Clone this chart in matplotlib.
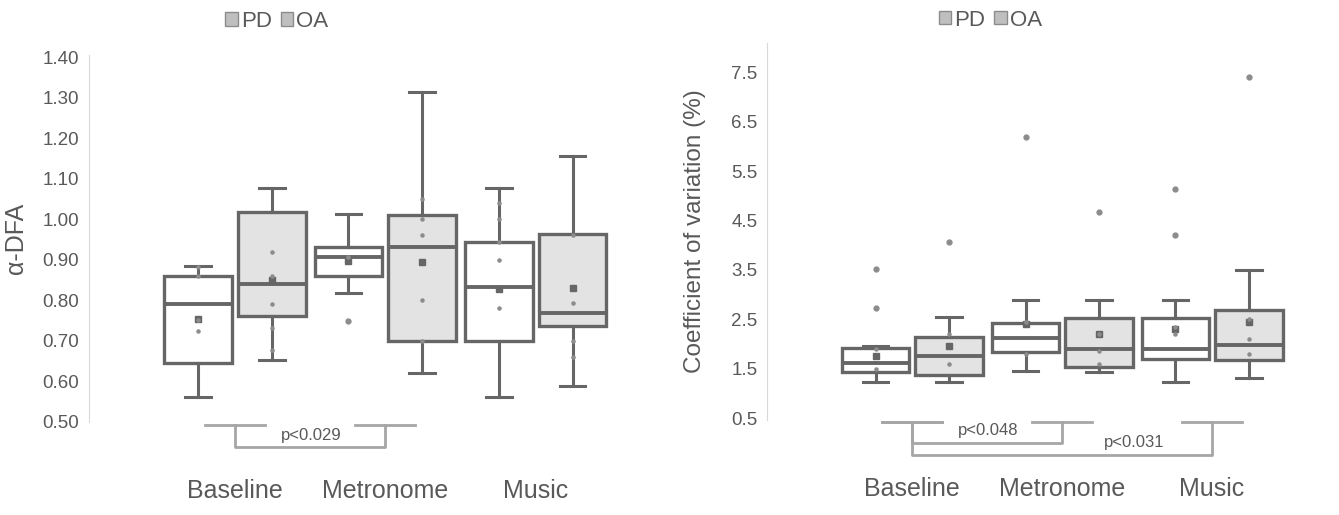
import matplotlib.pyplot as plt
from matplotlib.patches import Patch
from matplotlib import transforms
import numpy as np

plt.rcParams['font.family'] = ['Liberation Sans', 'DejaVu Sans']

conditions = ['Baseline', 'Metronome', 'Music']
groups = ['PD', 'OA']

# alpha-DFA box stats (Baseline, Metronome, Music)
dfa_pd_lo = [0.562, 0.819, 0.562]
dfa_pd_q1 = [0.645, 0.861, 0.699]
dfa_pd_med = [0.790, 0.906, 0.834]
dfa_pd_q3 = [0.861, 0.931, 0.945]
dfa_pd_hi = [0.885, 1.012, 1.076]
dfa_pd_mean = [0.755, 0.898, 0.827]
dfa_pd_out = [[], [0.749], []]
dfa_pd_pts = [[0.883, 0.860, 0.752, 0.724], [0.906], [0.900, 0.780, 0.945, 1.000, 1.040]]

dfa_oa_lo = [0.653, 0.620, 0.588]
dfa_oa_q1 = [0.761, 0.699, 0.736]
dfa_oa_med = [0.840, 0.931, 0.769]
dfa_oa_q3 = [1.018, 1.010, 0.964]
dfa_oa_hi = [1.076, 1.313, 1.155]
dfa_oa_mean = [0.850, 0.895, 0.831]
dfa_oa_out = [[], [], []]
dfa_oa_pts = [[0.919, 0.860, 0.790, 0.732, 0.678], [1.000, 0.960, 0.800, 0.700, 1.050], [0.960, 0.794, 0.700, 0.660]]

# coefficient of variation (%) box stats
cv_pd_lo = [1.24, 1.46, 1.24]
cv_pd_q1 = [1.44, 1.83, 1.69]
cv_pd_med = [1.61, 2.12, 1.89]
cv_pd_q3 = [1.915, 2.43, 2.52]
cv_pd_hi = [1.95, 2.89, 2.90]
cv_pd_mean = [1.75, 2.40, 2.30]
cv_pd_out = [[3.51, 2.72], [6.19], [5.14, 4.20]]
cv_pd_pts = [[1.90, 1.50], [2.45, 1.80], [2.35, 2.20]]

cv_oa_lo = [1.24, 1.44, 1.31]
cv_oa_q1 = [1.38, 1.53, 1.68]
cv_oa_med = [1.76, 1.89, 1.98]
cv_oa_q3 = [2.15, 2.52, 2.69]
cv_oa_hi = [2.55, 2.90, 3.50]
cv_oa_mean = [1.95, 2.20, 2.45]
cv_oa_out = [[4.07], [4.67], [7.41]]
cv_oa_pts = [[2.20, 1.60], [2.20, 1.85, 1.60], [2.50, 2.10, 1.80]]

dfa_ticks = [0.50, 0.60, 0.70, 0.80, 0.90, 1.00, 1.10, 1.20, 1.30, 1.40]
cv_ticks = [0.5, 1.5, 2.5, 3.5, 4.5, 5.5, 6.5, 7.5]

edge = '#666666'
txt = '#595959'
fills = {'PD': 'white', 'OA': '#e3e3e3'}


def make_stats(lo, q1, med, q3, hi, mean, out):
    return [dict(whislo=lo[i], q1=q1[i], med=med[i], q3=q3[i], whishi=hi[i],
                 mean=mean[i], fliers=out[i]) for i in range(len(lo))]


def draw_panel(ax, pd, oa, pd_pts, oa_pts):
    xs = np.arange(len(conditions))
    for g, st, pts, off in [('PD', pd, pd_pts, -0.245), ('OA', oa, oa_pts, 0.245)]:
        pos = xs + off
        ax.bxp(st, positions=pos, widths=0.45, capwidths=0.17, patch_artist=True,
               showmeans=True, manage_ticks=False,
               boxprops=dict(facecolor=fills[g], edgecolor=edge, linewidth=2.4),
               medianprops=dict(color=edge, linewidth=2.8),
               whiskerprops=dict(color=edge, linewidth=2.2),
               capprops=dict(color=edge, linewidth=2.2),
               meanprops=dict(marker='s', markersize=4, markerfacecolor=edge,
                              markeredgecolor=edge),
               flierprops=dict(marker='o', markersize=3.5, markerfacecolor='#8c8c8c',
                               markeredgecolor='#8c8c8c'))
        for p, v in zip(pos, pts):
            ax.scatter(np.full(len(v), p), v, s=5, color='#8c8c8c', zorder=4)
    ax.set_xticks(xs)
    ax.set_xticklabels(conditions, fontsize=18, color=txt)
    ax.tick_params(axis='x', length=0, pad=41)
    ax.tick_params(axis='y', length=0, pad=7, labelsize=13.5, labelcolor=txt)
    for s in ['top', 'right', 'bottom']:
        ax.spines[s].set_visible(False)
    ax.spines['left'].set_color('#d9d9d9')
    ax.set_xlim(-0.97, 2.5)
    ax.legend(handles=[Patch(facecolor='#bfbfbf', edgecolor='#8c8c8c', label=g) for g in groups],
              ncol=2, frameon=False, loc='center', bbox_to_anchor=(0.36, 1.092),
              handlelength=0.55, handleheight=0.55, handletextpad=0.15,
              columnspacing=0.4, fontsize=16, labelcolor=txt)


def bracket(ax, x0, x1, y_top, y_bot, label, tx, ty):
    tr = transforms.blended_transform_factory(ax.transData, ax.transAxes)
    kw = dict(color='#a6a6a6', linewidth=2, transform=tr, clip_on=False)
    for x in (x0, x1):
        ax.plot([x - 0.2, x + 0.2], [y_top, y_top], **kw)
    ax.plot([x0, x0, x1, x1], [y_top, y_bot, y_bot, y_top], **kw)
    ax.text(tx, ty, label, transform=tr, ha='center', va='center', fontsize=12, color=txt)


fig = plt.figure(figsize=(13.39, 5.15), dpi=100)
ax1 = fig.add_axes([89 / 1339, 1 - 422 / 515, 522 / 1339, 367 / 515])
ax2 = fig.add_axes([767 / 1339, 1 - 420 / 515, 520 / 1339, 377 / 515])

draw_panel(ax1,
           make_stats(dfa_pd_lo, dfa_pd_q1, dfa_pd_med, dfa_pd_q3, dfa_pd_hi, dfa_pd_mean, dfa_pd_out),
           make_stats(dfa_oa_lo, dfa_oa_q1, dfa_oa_med, dfa_oa_q3, dfa_oa_hi, dfa_oa_mean, dfa_oa_out),
           dfa_pd_pts, dfa_oa_pts)
ax1.set_ylim(0.50, 1.405)
ax1.set_yticks(dfa_ticks)
ax1.set_yticklabels(['%.2f' % t for t in dfa_ticks])
ax1.set_ylabel('α-DFA', fontsize=18, color=txt)
ax1.yaxis.set_label_coords(-0.117, 0.5)
bracket(ax1, 0, 1, -0.008, -0.068, 'p<0.029', 0.51, -0.036)

draw_panel(ax2,
           make_stats(cv_pd_lo, cv_pd_q1, cv_pd_med, cv_pd_q3, cv_pd_hi, cv_pd_mean, cv_pd_out),
           make_stats(cv_oa_lo, cv_oa_q1, cv_oa_med, cv_oa_q3, cv_oa_hi, cv_oa_mean, cv_oa_out),
           cv_pd_pts, cv_oa_pts)
ax2.set_ylim(0.46, 8.1)
ax2.set_yticks(cv_ticks)
ax2.set_yticklabels(['%.1f' % t for t in cv_ticks])
ax2.set_ylabel('Coefficient of variation (%)', fontsize=17.5, color=txt)
ax2.yaxis.set_label_coords(-0.117, 0.5)
ax2.get_legend().set_bbox_to_anchor((0.43, 1.061))
bracket(ax2, 0, 1, -0.005, -0.061, 'p<0.048', 0.505, -0.027)
bracket(ax2, 0, 2, -0.005, -0.093, 'p<0.031', 1.48, -0.061)

fig.savefig('out.png', dpi=100, facecolor='white')
